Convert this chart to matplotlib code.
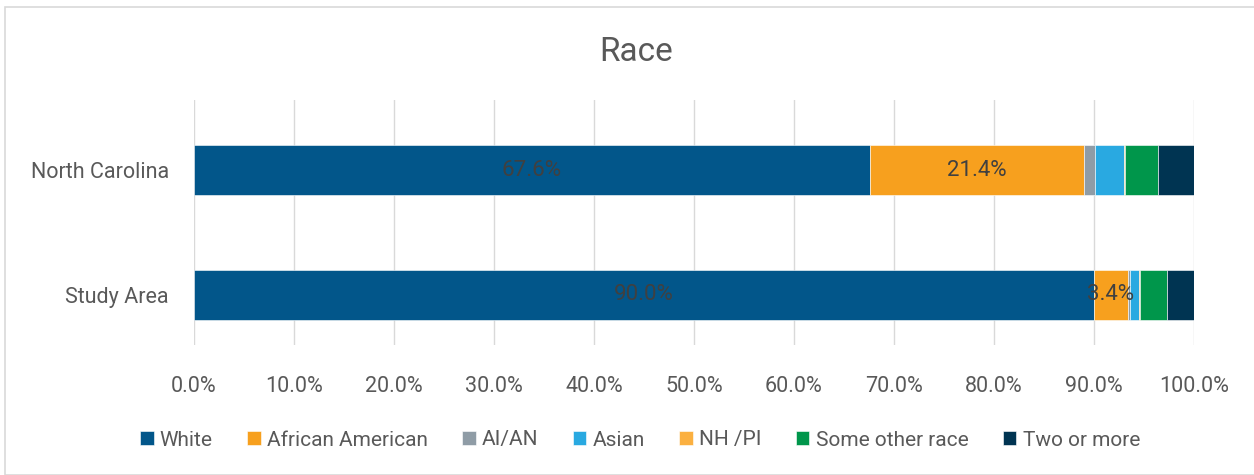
import numpy as np
import matplotlib
matplotlib.use("Agg")
import matplotlib.pyplot as plt
from matplotlib.patches import Rectangle
from matplotlib.ticker import FuncFormatter

# ── Data ──────────────────────────────────────────────────────────────────────
regions = ["Study Area", "North Carolina"]
groups = ["White", "African American", "AI/AN", "Asian", "NH /PI",
          "Some other race", "Two or more"]
white         = [90.0, 67.6]
african_amer  = [3.4, 21.4]
ai_an         = [0.2, 1.1]
asian         = [0.9, 2.9]
nh_pi         = [0.1, 0.1]
other_race    = [2.7, 3.3]
two_or_more   = [2.7, 3.6]
series = [white, african_amer, ai_an, asian, nh_pi, other_race, two_or_more]
labelled = {"White", "African American"}

colors = ["#02568A", "#F7A01E", "#8F9CA6", "#29A9E1", "#FBB040",
          "#00964B", "#003452"]

plt.rcParams["font.family"] = ["Roboto", "DejaVu Sans"]
txt = "#595959"

fig = plt.figure(figsize=(12.54, 4.75), dpi=100)
fig.patches.append(Rectangle((5 / 1254, 0), 1.0, 1 - 7 / 475, transform=fig.transFigure,
                             fill=False, edgecolor="#D9D9D9", linewidth=1.2))
ax = fig.add_axes([194 / 1254, 130 / 475, 1000 / 1254, 245 / 475])

# stacked bars
y = np.arange(len(regions))
left = np.zeros(len(regions))
for name, vals, col in zip(groups, series, colors):
    vals = np.array(vals)
    bars = ax.barh(y, vals, left=left, height=0.4, color=col, label=name,
                   edgecolor="white", linewidth=0.4)
    if name in labelled:
        ax.bar_label(bars, labels=[f"{v:.1f}%" for v in vals], label_type="center",
                     color="#404040", fontsize=16)
    left += vals

ax.set_xlim(0, 100)
ax.set_ylim(-0.4, 1.56)
ax.set_xticks(np.arange(0, 101, 10))
ax.xaxis.set_major_formatter(FuncFormatter(lambda v, p: f"{v:.1f}%"))
ax.set_yticks(y)
ax.set_yticklabels(regions)
ax.tick_params(axis="both", length=0, labelsize=15.5, colors=txt)
ax.tick_params(axis="y", pad=18)
ax.tick_params(axis="x", pad=22)
ax.grid(axis="x", color="#D9D9D9", linewidth=1)
ax.set_axisbelow(True)
for s in ax.spines.values():
    s.set_visible(False)

fig.text(636 / 1254, 1 - 52 / 475, "Race", ha="center", va="center",
         fontsize=24, color=txt)

fig.legend(loc="center", bbox_to_anchor=(640 / 1254, 1 - 440 / 475), ncol=7,
           frameon=False, fontsize=15, labelcolor=txt, handlelength=0.65,
           handleheight=0.65, handletextpad=0.3, columnspacing=1.65)

fig.savefig("out.png", dpi=100)
